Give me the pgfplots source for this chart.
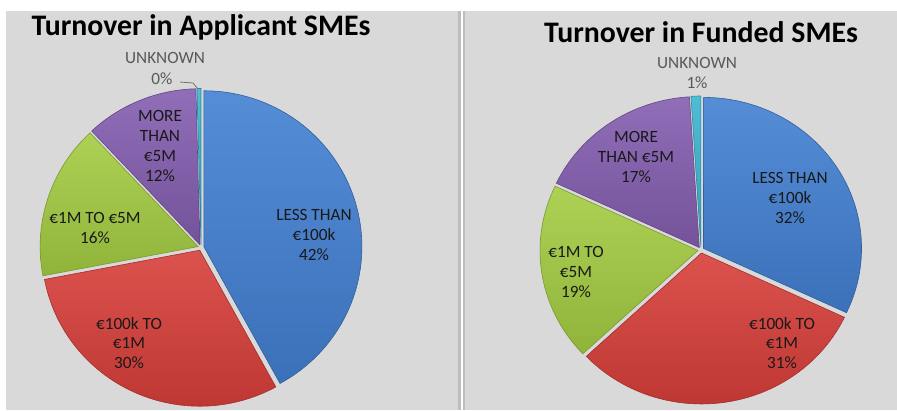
\documentclass[border=0pt]{standalone}
\usepackage{pgfplots}
\pgfplotsset{compat=1.18}
\usepackage{fontspec}
\setmainfont{Carlito}
\definecolor{pblue}{HTML}{4280D2}
\definecolor{pred}{HTML}{D83F3A}
\definecolor{pgreen}{HTML}{A4CC42}
\definecolor{ppurple}{HTML}{845EB0}
\definecolor{pcyan}{HTML}{3AB6D0}
\definecolor{bg}{HTML}{D9D9D9}
\definecolor{sep}{HTML}{BDBDBD}
% #1 cx, #2 cy, #3 rx, #4 ry, #5 start %, #6 end %, #7 colour, #8 explode
\newcommand{\slice}[8]{%
  \pgfmathsetmacro\midang{90-1.8*(#5+#6)}%
  \pgfmathsetmacro\ox{#1+#8*cos(\midang)}%
  \pgfmathsetmacro\oy{#2-#8*sin(\midang)}%
  \pgfmathsetmacro\aa{90-3.6*#5}%
  \pgfmathsetmacro\ab{90-3.6*#6}%
  \edef\tmp{\noexpand\addplot[top color=#7!90!white, bottom color=#7!88!black, draw=#7!75!black, line width=0.6pt, domain=\ab:\aa, samples=90, variable=\noexpand\t]
    ({\ox+#3*cos(\noexpand\t)},{\oy-#4*sin(\noexpand\t)}) -- (axis cs:\ox,\oy) -- cycle;}%
  \tmp
}
\begin{document}
\begin{tikzpicture}
\fill[white] (0,0) rectangle (897pt,410pt);
\fill[bg] (6pt,0) rectangle (458pt,399pt);
\fill[bg] (465pt,0) rectangle (897pt,399pt);
\fill[sep] (458pt,0) rectangle (461pt,399pt);
\fill[sep] (463pt,0) rectangle (465pt,399pt);
\begin{axis}[at={(0,0)}, anchor=south west, scale only axis, width=897pt, height=410pt,
  xmin=0, xmax=897, ymin=0, ymax=410, y dir=reverse, hide axis, clip=false]
% Applicant SMEs: cumulative shares in percent
\slice{201}{247.5}{158}{156}{0}{42}{pblue}{3}
\slice{201}{247.5}{158}{156}{42}{72}{pred}{3}
\slice{201}{247.5}{158}{156}{72}{88}{pgreen}{3}
\slice{201}{247.5}{158}{156}{88}{99.6}{ppurple}{3}
\slice{201}{247.5}{158}{156}{99.6}{100}{pcyan}{3}
% Funded SMEs
\slice{701}{250}{158}{151}{0}{32}{pblue}{3}
\slice{701}{250}{158}{151}{32}{63}{pred}{3}
\slice{701}{250}{158}{151}{63}{82}{pgreen}{3}
\slice{701}{250}{158}{151}{82}{99}{ppurple}{3}
\slice{701}{250}{158}{151}{99}{100}{pcyan}{3}
% titles
\node[anchor=base, font=\fontsize{29.8}{34}\selectfont\bfseries] at (axis cs:201,35) {Turnover in Applicant SMEs};
\node[anchor=base, font=\fontsize{29.8}{34}\selectfont\bfseries] at (axis cs:701,42) {Turnover in Funded SMEs};
% labels
\tikzset{lab/.style={align=center, font=\fontsize{17.2}{19.8}\selectfont, text=black!90}}
\node[lab, text=black!65] at (axis cs:165,58) {UNKNOWN};
\node[lab, text=black!65] at (axis cs:162,79) {0\%};
\draw[black!55, line width=0.8pt] (axis cs:180,82) -- (axis cs:193,83) -- (axis cs:198,89);
\node[lab] at (axis cs:160,146) {MORE\\THAN\\€5M\\12\%};
\node[lab] at (axis cs:95,228) {€1M TO €5M\\16\%};
\node[lab] at (axis cs:314,235) {LESS THAN\\€100k\\42\%};
\node[lab] at (axis cs:129,343) {€100k TO\\€1M\\30\%};
\node[lab, text=black!65] at (axis cs:697,73) {UNKNOWN\\1\%};
\node[lab] at (axis cs:636,157) {MORE\\THAN €5M\\17\%};
\node[lab] at (axis cs:790,198) {LESS THAN\\€100k\\32\%};
\node[lab] at (axis cs:576,272) {€1M TO\\€5M\\19\%};
\node[lab] at (axis cs:782,343) {€100k TO\\€1M\\31\%};
\end{axis}
\end{tikzpicture}
\end{document}
